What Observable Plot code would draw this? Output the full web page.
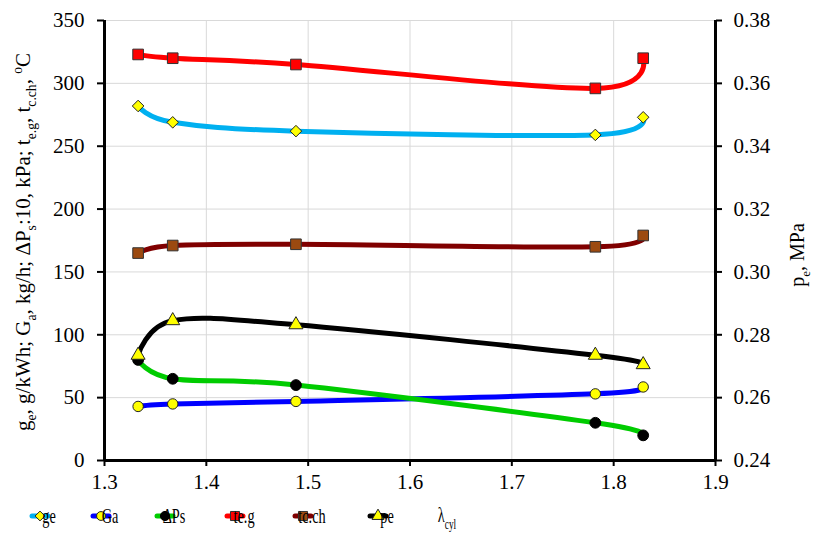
<!DOCTYPE html>
<html>
<head>
<meta charset="utf-8">
<script src="https://cdn.jsdelivr.net/npm/d3@7"></script>
<script src="https://cdn.jsdelivr.net/npm/@observablehq/plot@0.6"></script>
<style>
  html, body { margin: 0; padding: 0; background: #fff; }
  #chart svg { display: block; }
</style>
</head>
<body>
<div id="chart"></div>
<script>
// Relative cylinder volume (x axis)
const lambdaCyl = [1.333, 1.367, 1.488, 1.782, 1.829];

// Left-axis series
const ge   = [282, 269, 262, 259, 273];   // g/kWh
const Ga   = [43, 45, 47, 53, 58.5];      // kg/h
const dPs  = [80, 65, 60, 30, 20];        // kPa (÷10)
const teg  = [323, 320, 315, 296, 320];   // °C
const tcch = [165, 171, 172, 170, 179];   // °C

// Right-axis series
const pe = [0.2735, 0.2845, 0.2832, 0.2735, 0.2705]; // MPa

// Tick values
const xTicks  = [1.3, 1.4, 1.5, 1.6, 1.7, 1.8, 1.9];
const yTicks  = [0, 50, 100, 150, 200, 250, 300, 350];
const peTicks = [0.24, 0.26, 0.28, 0.30, 0.32, 0.34, 0.36, 0.38];

// Right axis range and its mapping onto the left scale
const peMin = 0.24, peMax = 0.38, yMax = 350;
const peToY = (p) => (p - peMin) / (peMax - peMin) * yMax;
const yToPe = (v) => peMin + v / yMax * (peMax - peMin);

const FONT = "'Liberation Serif', 'Times New Roman', serif";
const smooth = d3.curveCatmullRom.alpha(0);

const series = [
  {name: "ge",    values: ge,   color: "#00b0f0", symbol: "diamond2", fill: "#ffff00", stroke: "#222", r: 5.2, right: false},
  {name: "Ga",    values: Ga,   color: "#0000ff", symbol: "circle",   fill: "#ffff00", stroke: "#222", r: 5.2, right: false},
  {name: "ΔPs",   values: dPs,  color: "#00cc00", symbol: "circle",   fill: "#000000", stroke: "#000", r: 5.4, right: false},
  {name: "te.g",  values: teg,  color: "#ff0000", symbol: "square",   fill: "#ff0000", stroke: "#333", r: 6.0, right: false},
  {name: "tc.ch", values: tcch, color: "#800000", symbol: "square",   fill: "#9c4a10", stroke: "#333", r: 6.0, right: false},
  {name: "pe",    values: pe,   color: "#000000", symbol: "triangle", fill: "#ffff00", stroke: "#222", r: 5.2, right: true}
];

const marks = [
  Plot.gridX(xTicks.slice(1, -1), {stroke: "#d9d9d9", strokeOpacity: 1, strokeWidth: 1}),
  Plot.gridY(yTicks.slice(1), {stroke: "#d9d9d9", strokeOpacity: 1, strokeWidth: 1})
];

for (const s of series) {
  const rows = lambdaCyl.map((x, i) => ({x, y: s.right ? peToY(s.values[i]) : s.values[i]}));
  marks.push(Plot.line(rows, {x: "x", y: "y", stroke: s.color, strokeWidth: 5, curve: smooth}));
  marks.push(Plot.dot(rows, {x: "x", y: "y", symbol: s.symbol, r: s.r, fill: s.fill, stroke: s.stroke, strokeWidth: 1}));
}

marks.push(
  Plot.ruleX([1.3, 1.9], {stroke: "#000", strokeWidth: 3}),
  Plot.ruleY([0], {stroke: "#000", strokeWidth: 3}),
  Plot.axisX(xTicks, {anchor: "bottom", tickSize: 6, tickPadding: 8, strokeWidth: 2,
    tickFormat: (d) => d.toFixed(1), fontSize: 21, label: null}),
  Plot.axisY(yTicks, {anchor: "left", tickSize: 7, tickPadding: 13, strokeWidth: 2,
    tickFormat: (d) => String(d), fontSize: 21, label: null}),
  Plot.axisY(peTicks.map(peToY), {anchor: "right", tickSize: 6, tickPadding: 12, strokeWidth: 2,
    tickFormat: (d) => yToPe(d).toFixed(2), fontSize: 21, label: null})
);

const chart = Plot.plot({
  width: 814,
  height: 538,
  marginLeft: 104,
  marginRight: 99,
  marginTop: 20,
  marginBottom: 78,
  x: {domain: [1.3, 1.9]},
  y: {domain: [0, 350]},
  style: {fontFamily: FONT, fontSize: "21px", background: "#fff", color: "#000"},
  marks
});

document.getElementById("chart").append(chart);

// Rich text helper: segments of [text, kind] with kind "", "sub" or "sup"
function richText(sel, parts, size) {
  let shift = 0;
  for (const [t, kind] of parts) {
    const target = kind === "sub" ? 0.3 * size : kind === "sup" ? -0.4 * size : 0;
    sel.append("tspan")
      .attr("dy", target - shift)
      .style("font-size", `${kind ? size * 0.65 : size}px`)
      .text(t);
    shift = target;
  }
}

const svg = d3.select(chart);

// Left axis title
const leftTitle = svg.append("text")
  .attr("transform", "translate(30,242) rotate(-90)")
  .attr("text-anchor", "middle")
  .style("font-family", FONT)
  .attr("fill", "#000");
richText(leftTitle, [
  ["g", ""], ["e", "sub"], [", g/kWh; G", ""], ["a", "sub"], [", kg/h; ΔP", ""], ["s", "sub"],
  [":10, kPa; t", ""], ["e.g", "sub"], [", t", ""], ["c.ch", "sub"], [", ", ""], ["o", "sup"], ["C", ""]
], 21);

// Right axis title
const rightTitle = svg.append("text")
  .attr("transform", "translate(804,255) rotate(-90)")
  .attr("text-anchor", "middle")
  .style("font-family", FONT)
  .attr("fill", "#000");
richText(rightTitle, [["p", ""], ["e", "sub"], [", MPa", ""]], 20);

// Legend row
const legendY = 516;
const legendItems = [
  {s: series[0], x: 32},
  {s: series[1], x: 93},
  {s: series[2], x: 157},
  {s: series[3], x: 227},
  {s: series[4], x: 295},
  {s: series[5], x: 370}
];
const symbolTypes = {diamond2: d3.symbolDiamond2, circle: d3.symbolCircle, square: d3.symbolSquare, triangle: d3.symbolTriangle};
const legend = svg.append("g").style("font-family", FONT);
for (const {s, x} of legendItems) {
  const g = legend.append("g").attr("transform", `translate(${x},${legendY})`);
  g.append("line").attr("x1", 0).attr("x2", 16).attr("stroke", s.color)
    .attr("stroke-width", 5).attr("stroke-linecap", "round");
  g.append("path")
    .attr("transform", "translate(8,0)")
    .attr("d", d3.symbol(symbolTypes[s.symbol], Math.PI * (s.r * 0.85) ** 2)())
    .attr("fill", s.fill).attr("stroke", s.stroke).attr("stroke-width", 1);
  g.append("text")
    .attr("transform", "translate(17,7) scale(0.65,1)")
    .style("font-size", "22px")
    .attr("fill", "#000")
    .text(s.name);
}

// x axis title, placed in the legend row
const xTitle = legend.append("text")
  .attr("transform", `translate(447,${legendY + 6}) scale(0.65,1)`)
  .attr("fill", "#000");
richText(xTitle, [["λ", ""], ["cyl", "sub"]], 22);
</script>
</body>
</html>
